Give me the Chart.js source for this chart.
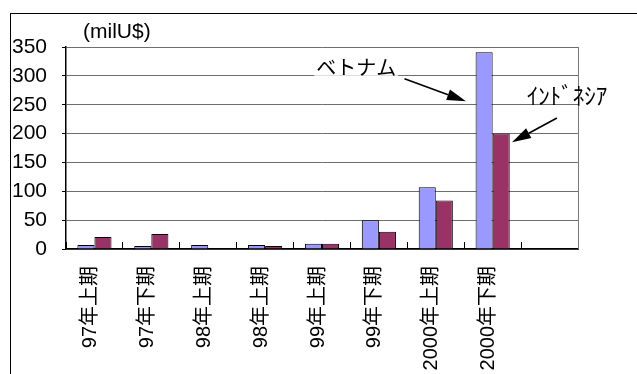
<!DOCTYPE html>
<html>
<head>
<meta charset="utf-8">
<script src="https://cdn.jsdelivr.net/npm/chart.js@4.4.1/dist/chart.umd.min.js"></script>
<style>
  html, body { margin: 0; padding: 0; background: #fff; }
  canvas { display: block; }
</style>
</head>
<body>
<canvas id="trade" width="637" height="374"></canvas>
<script>
var periods = ['97年上期', '97年下期', '98年上期', '98年上期', '99年上期', '99年下期', '2000年上期', '2000年下期', ''];
var vietnam = [7, 5, 7, 7, 9, 50, 107, 341, null];
var indonesia = [21, 26, 1, 5, 9, 30, 84, 200, null];
var yTicks = [0, 50, 100, 150, 200, 250, 300, 350];

var latinFont = "'Liberation Sans', Arial, sans-serif";
var jpFont = "'Liberation Sans', 'Noto Sans CJK JP', sans-serif";

function arrow(ctx, x1, y1, x2, y2) {
    var ang = Math.atan2(y2 - y1, x2 - x1);
    var len = 19, half = 5.5;
    var bx = x2 - len * Math.cos(ang), by = y2 - len * Math.sin(ang);
    ctx.beginPath();
    ctx.moveTo(x1, y1);
    ctx.lineTo(bx, by);
    ctx.lineWidth = 1.6;
    ctx.strokeStyle = '#000';
    ctx.stroke();
    ctx.beginPath();
    ctx.moveTo(x2, y2);
    ctx.lineTo(bx + half * Math.sin(ang), by - half * Math.cos(ang));
    ctx.lineTo(bx - half * Math.sin(ang), by + half * Math.cos(ang));
    ctx.closePath();
    ctx.fillStyle = '#000';
    ctx.fill();
}

// frame, unit label, right edge of the plot and the two callouts
var extras = {
    id: 'extras',
    beforeDraw: function (chart) {
        var ctx = chart.ctx;
        ctx.save();
        ctx.fillStyle = '#fff';
        ctx.fillRect(0, 0, chart.width, chart.height);
        ctx.strokeStyle = '#000';
        ctx.lineWidth = 1;
        ctx.strokeRect(10.5, 13.5, chart.width + 20, chart.height + 20);
        ctx.restore();
    },
    afterDraw: function (chart) {
        var ctx = chart.ctx;
        var a = chart.chartArea;
        var xs = chart.scales.x, ys = chart.scales.y;
        var px = function (v) { return xs.getPixelForValue(v); };
        var py = function (v) { return ys.getPixelForValue(v); };
        ctx.save();

        ctx.strokeStyle = '#7a7a7a';
        ctx.lineWidth = 1;
        ctx.beginPath();
        ctx.moveTo(Math.round(a.right) + 0.5, a.top);
        ctx.lineTo(Math.round(a.right) + 0.5, a.bottom);
        ctx.stroke();

        ctx.fillStyle = '#000';
        ctx.font = '21px ' + latinFont;
        ctx.textAlign = 'left';
        ctx.textBaseline = 'middle';
        ctx.fillText('(milU$)', a.left + 17, a.top - 15);

        ctx.font = "20px 'Noto Sans CJK JP', sans-serif";
        ctx.textAlign = 'center';
        var vx = px(4.6), vy = py(314);
        var w = ctx.measureText('ベトナム').width;
        ctx.fillStyle = '#fff';
        ctx.fillRect(vx - w / 2 - 2, vy - 10, w + 4, 18);
        ctx.fillStyle = '#000';
        ctx.fillText('ベトナム', vx, vy);
        arrow(ctx, px(5.45), py(295), px(6.53), py(256));

        ctx.font = "23px 'Noto Sans CJK JP', sans-serif";
        ctx.textAlign = 'left';
        ctx.fillText('ｲﾝﾄﾞﾈｼｱ', px(7.6), py(267));
        arrow(ctx, px(8.13), py(227), px(7.34), py(185));

        ctx.restore();
    }
};

var trade = document.getElementById('trade').getContext('2d');
var tradeChart = new Chart(trade, {
    type: 'bar',
    data: {
        labels: periods,
        datasets: [{
            label: 'ベトナム',
            data: vietnam,
            backgroundColor: '#9999ff',
            borderColor: '#000',
            borderWidth: 1,
            categoryPercentage: 0.6,
            barPercentage: 1.0
        }, {
            label: 'インドネシア',
            data: indonesia,
            backgroundColor: '#993366',
            borderColor: '#000',
            borderWidth: 1,
            categoryPercentage: 0.6,
            barPercentage: 1.0
        }]
    },
    options: {
        responsive: false,
        animation: false,
        layout: {
            padding: { top: 47, right: 59, bottom: 0, left: 0 }
        },
        plugins: {
            legend: { display: false },
            tooltip: { enabled: false }
        },
        scales: {
            x: {
                afterFit: function (scale) { scale.height = 125; },
                grid: {
                    display: true,
                    drawOnChartArea: false,
                    drawTicks: true,
                    tickLength: -7,
                    tickColor: '#000',
                    offset: true
                },
                border: { display: true, color: '#000', width: 1.5 },
                ticks: {
                    autoSkip: false,
                    minRotation: 90,
                    maxRotation: 90,
                    padding: 24,
                    labelOffset: -4,
                    color: '#000',
                    font: { family: jpFont, size: 20 }
                }
            },
            y: {
                min: 0,
                max: 350,
                afterFit: function (scale) { scale.width = 66; },
                afterBuildTicks: function (scale) {
                    scale.ticks = yTicks.map(function (v) { return { value: v }; });
                },
                grid: {
                    color: '#6e6e6e',
                    lineWidth: 1,
                    drawTicks: true,
                    tickLength: 4,
                    tickColor: '#000'
                },
                border: { display: true, color: '#000', width: 1.5 },
                ticks: {
                    padding: 15,
                    color: '#000',
                    font: { family: latinFont, size: 21 }
                }
            }
        }
    },
    plugins: [extras]
});
</script>
</body>
</html>
